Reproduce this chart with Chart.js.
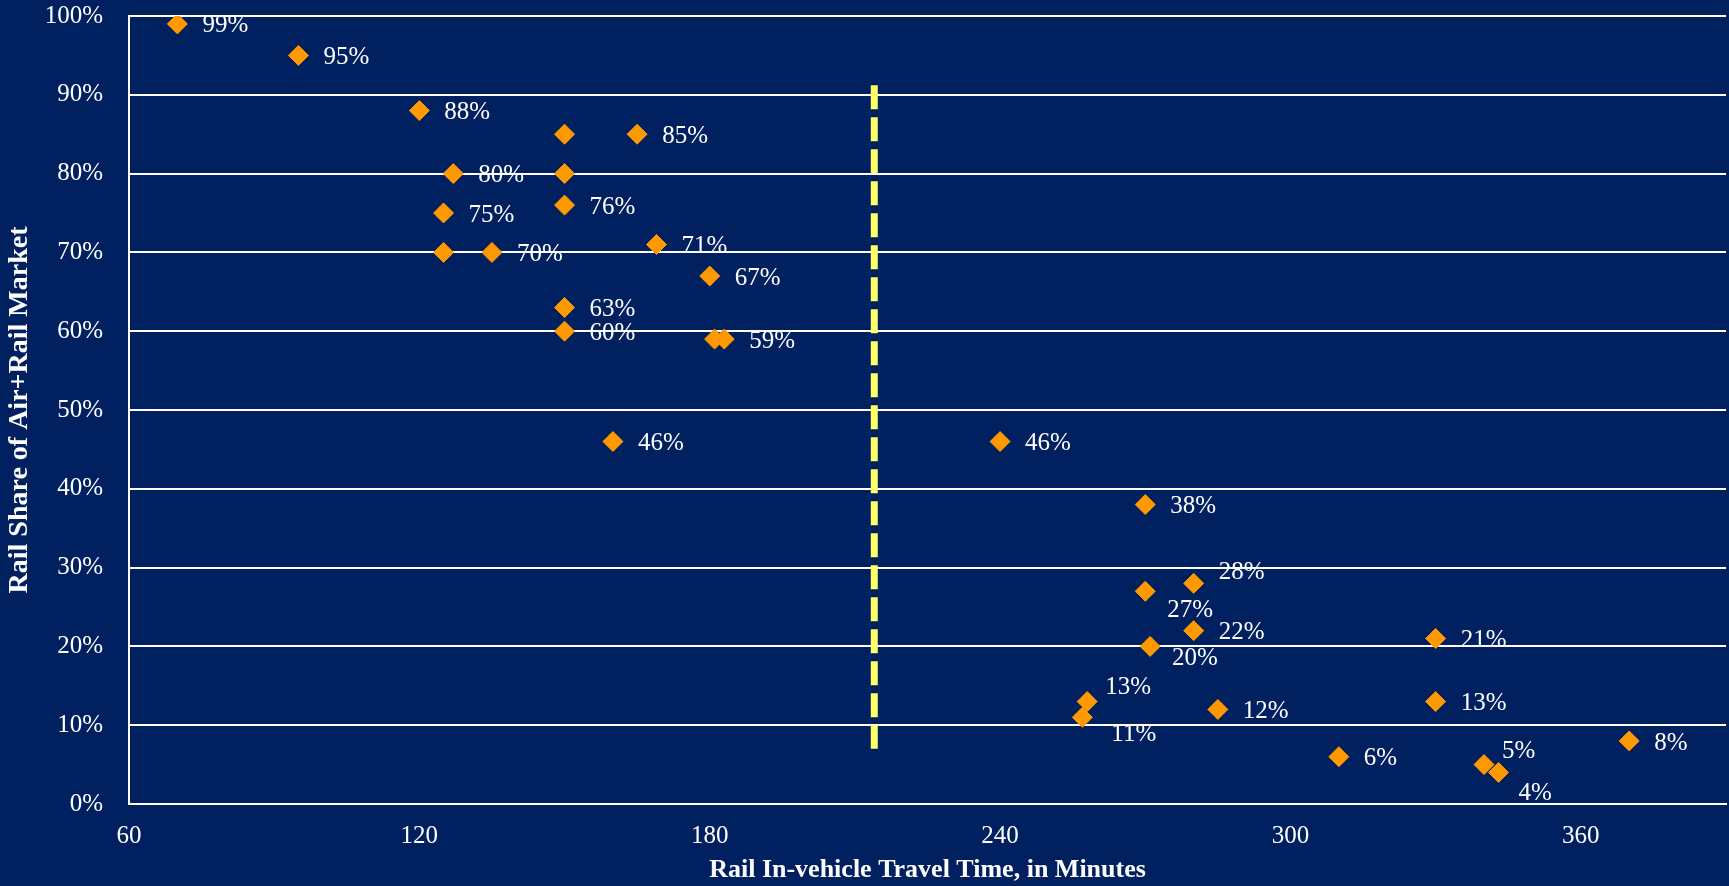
<!DOCTYPE html>
<html>
<head>
<meta charset="utf-8">
<title>Rail share vs travel time</title>
<script src="https://cdn.jsdelivr.net/npm/chart.js@4.4.1/dist/chart.umd.min.js"></script>
<style>
body{margin:0;background:#002060;}
canvas{display:block;}
</style>
</head>
<body>
<canvas id="chart" width="1729" height="886"></canvas>
<script>
// rail in-vehicle time (minutes) and rail share of the air+rail market (%)
const travelTime = [70, 95, 120, 150, 165, 127, 150, 125, 150, 125, 135, 169, 180, 150, 150, 181, 183, 160,
  240, 270, 280, 270, 280, 271, 330, 258, 257, 285, 330, 310, 340, 343, 370]
const railShare = [99, 95, 88, 85, 85, 80, 80, 75, 76, 70, 70, 71, 67, 63, 60, 59, 59, 46,
  46, 38, 28, 27, 22, 20, 21, 13, 11, 12, 13, 6, 5, 4, 8]
// which points get a value label
const showLabel = [1, 1, 1, 0, 1, 1, 0, 1, 1, 0, 1, 1, 1, 1, 1, 0, 1, 1,
  1, 1, 1, 1, 1, 1, 1, 1, 1, 1, 1, 1, 1, 1, 1]

// dashed threshold line
const thresholdTime = 214
const thresholdRange = [91.2, 7]

const xTicks = [60, 120, 180, 240, 300, 360]

let points = travelTime.map((t, i) => ({x: t, y: railShare[i]}))

// label offsets for crowded points (default is to the right)
const labelNudge = {20: [25, -11], 21: [22, 19], 23: [22, 12], 25: [18, -14], 26: [29, 17], 30: [18, -13], 31: [20, 21]}

const pointLabels = {
  id: "pointLabels",
  afterDatasetsDraw(chart) {
    let ctx = chart.ctx
    let meta = chart.getDatasetMeta(0)
    ctx.save()
    ctx.font = "25px 'Liberation Serif', 'Times New Roman', serif"
    ctx.fillStyle = "#ffffff"
    ctx.textAlign = "left"
    ctx.textBaseline = "middle"
    meta.data.forEach((el, i) => {
      if (!showLabel[i]) return
      let off = labelNudge[i] || [25, 2]
      ctx.fillText(railShare[i] + "%", el.x + off[0], el.y + off[1])
    })
    ctx.restore()
  }
}

Chart.defaults.font.family = "'Liberation Serif', 'Times New Roman', serif"
Chart.defaults.color = "#ffffff"

new Chart(document.getElementById("chart"), {
  type: "scatter",
  data: {
    datasets: [{
      label: "Rail share",
      data: points,
      pointStyle: "rectRot",
      pointRadius: 10,
      pointHoverRadius: 10,
      pointBorderWidth: 1,
      backgroundColor: "#ff9900",
      borderColor: "#ff9900"
    }, {
      type: "line",
      label: "Threshold",
      data: thresholdRange.map(v => ({x: thresholdTime, y: v})),
      borderColor: "#ffff66",
      borderWidth: 7,
      borderDash: [24, 8],
      pointRadius: 0,
      fill: false,
      order: 1
    }]
  },
  options: {
    responsive: false,
    animation: false,
    layout: {autoPadding: false, padding: {top: 16, right: 3, left: 0, bottom: 0}},
    plugins: {legend: {display: false}, tooltip: {enabled: false}},
    scales: {
      x: {
        type: "linear",
        min: 60,
        max: 390,
        afterBuildTicks: axis => { axis.ticks = xTicks.map(v => ({value: v})) },
        afterFit: scale => {
          scale.height = 82
          scale.paddingLeft = 0
          scale.paddingRight = 0
        },
        grid: {display: false, drawTicks: false},
        border: {display: true, color: "#ffffff", width: 2},
        ticks: {font: {size: 25}, padding: 17, color: "#ffffff", maxRotation: 0},
        title: {display: true, text: "Rail In-vehicle Travel Time, in Minutes",
          font: {size: 26, weight: "bold"}, color: "#ffffff", padding: 0}
      },
      y: {
        min: 0,
        max: 100,
        afterFit: scale => {
          scale.width = 129
          scale.paddingTop = 0
          scale.paddingBottom = 0
        },
        grid: {color: "#ffffff", lineWidth: 2, drawTicks: false},
        border: {display: true, color: "#ffffff", width: 2},
        ticks: {stepSize: 10, font: {size: 25}, padding: 26, color: "#ffffff",
          callback: v => v + "%"},
        title: {display: true, text: "Rail Share of Air+Rail Market",
          font: {size: 28, weight: "bold"}, color: "#ffffff", padding: {top: 3, bottom: 0}}
      }
    }
  },
  plugins: [pointLabels]
})
</script>
</body>
</html>
